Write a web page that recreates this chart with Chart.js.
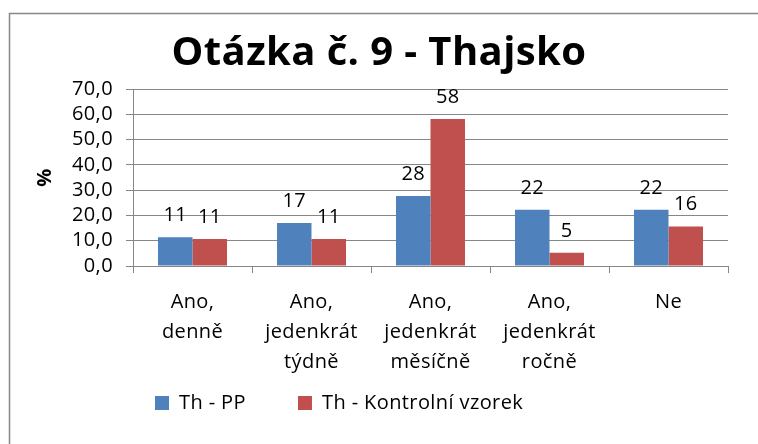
<!DOCTYPE html>
<html>
<head>
<meta charset="utf-8">
<script src="https://cdn.jsdelivr.net/npm/chart.js@4/dist/chart.umd.min.js"></script>
<style>
  html, body { margin: 0; padding: 0; background: #fff; overflow: hidden; }
  #chart { display: block; }
</style>
</head>
<body>
<canvas id="chart" width="758" height="444"></canvas>
<script>
// Chart values
const categories = [
    ['Ano,', 'denně'],
    ['Ano,', 'jedenkrát', 'týdně'],
    ['Ano,', 'jedenkrát', 'měsíčně'],
    ['Ano,', 'jedenkrát', 'ročně'],
    ['Ne']
];
const seriesNames = ['Th - PP', 'Th - Kontrolní vzorek'];
const ppValues = [11.4, 17.0, 27.7, 22.2, 22.2];
const controlValues = [10.7, 10.7, 58.1, 5.2, 15.6];
const yTicks = [0, 10, 20, 30, 40, 50, 60, 70];

const FONT = "'Open Sans', 'DejaVu Sans', sans-serif";
const LS = '0.4px';

// slight letter spacing like the original rendering, plus the outer frame
const spacing = {
    id: 'spacing',
    beforeUpdate(chart) { chart.ctx.letterSpacing = LS; },
    beforeLayout(chart) { chart.ctx.letterSpacing = LS; },
    beforeDraw(chart) {
        const ctx = chart.ctx;
        ctx.letterSpacing = LS;
        ctx.save();
        ctx.strokeStyle = '#878787';
        ctx.lineWidth = 1.5;
        ctx.beginPath();
        ctx.moveTo(9.5, 460);
        ctx.lineTo(9.5, 13.5);
        ctx.lineTo(770, 13.5);
        ctx.stroke();
        ctx.restore();
    }
};

// place the legend like in the reference
const legendPlace = {
    id: 'legendPlace',
    afterLayout(chart) {
        const lg = chart.legend;
        const pad = lg.options.labels.padding;
        lg.left = 155 - pad;
        lg.top = 393 - pad;
    }
};

// value labels above the bars
const valueLabels = {
    id: 'valueLabels',
    afterDatasetsDraw(chart) {
        const ctx = chart.ctx;
        ctx.save();
        ctx.font = '20px ' + FONT;
        ctx.fillStyle = '#000';
        ctx.textAlign = 'center';
        ctx.textBaseline = 'middle';
        chart.data.datasets.forEach((ds, i) => {
            chart.getDatasetMeta(i).data.forEach((bar, j) => {
                ctx.fillText(String(Math.round(ds.data[j])), bar.x, bar.y - 22);
            });
        });
        ctx.restore();
    }
};

new Chart(document.getElementById('chart'), {
    type: 'bar',
    data: {
        labels: categories,
        datasets: [{
            label: seriesNames[0],
            data: ppValues,
            backgroundColor: '#4F81BD',
            borderWidth: 0,
            categoryPercentage: 0.58,
            barPercentage: 1.0
        }, {
            label: seriesNames[1],
            data: controlValues,
            backgroundColor: '#C0504D',
            borderWidth: 0,
            categoryPercentage: 0.58,
            barPercentage: 1.0
        }]
    },
    options: {
        responsive: false,
        animation: false,
        layout: { padding: { left: 30, right: 30, top: 0, bottom: 0 } },
        plugins: {
            title: {
                display: true,
                text: 'Otázka č. 9 - Thajsko',
                color: '#000',
                font: { family: FONT, size: 40, weight: 'bold' },
                padding: { top: 30, bottom: 11 }
            },
            legend: {
                position: 'bottom',
                align: 'start',
                maxHeight: 60,
                labels: {
                    color: '#000',
                    font: { family: FONT, size: 20 },
                    boxWidth: 14,
                    boxHeight: 14,
                    padding: 52
                }
            },
            tooltip: { enabled: false }
        },
        scales: {
            x: {
                grid: {
                    display: true,
                    drawOnChartArea: false,
                    drawTicks: true,
                    tickLength: 7,
                    color: '#868686'
                },
                border: { color: '#868686' },
                ticks: {
                    color: '#000',
                    font: { family: FONT, size: 20, lineHeight: 1.5 },
                    padding: 14,
                    maxRotation: 0,
                    autoSkip: false
                },
                afterFit(scale) { scale.height = 118; }
            },
            y: {
                min: yTicks[0],
                max: yTicks[yTicks.length - 1],
                afterBuildTicks(scale) { scale.ticks = yTicks.map(v => ({ value: v })); },
                grid: { color: '#868686', tickLength: 7 },
                border: { color: '#868686' },
                ticks: {
                    color: '#000',
                    font: { family: FONT, size: 20, lineHeight: 1.0 },
                    padding: 13,
                    autoSkip: false,
                    callback: v => v.toFixed(1).replace('.', ',')
                },
                title: {
                    display: true,
                    text: '%',
                    color: '#000',
                    font: { family: FONT, size: 20, weight: 'bold' },
                    padding: { top: 3, bottom: 0 }
                },
                afterFit(scale) { scale.width = 103; }
            }
        }
    },
    plugins: [spacing, legendPlace, valueLabels]
});
</script>
</body>
</html>
